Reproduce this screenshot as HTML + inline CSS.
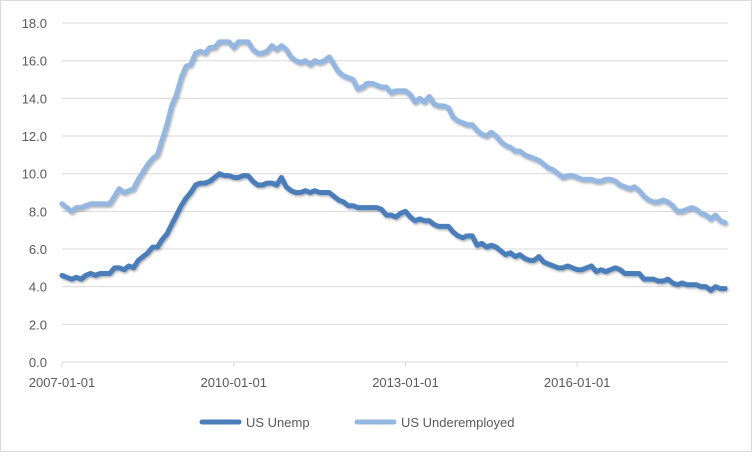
<!DOCTYPE html>
<html><head><meta charset="utf-8"><style>
body{margin:0;background:#fff}
svg text{font-family:"Liberation Sans",sans-serif;fill:#595959;font-size:13px}
</style></head><body>
<svg width="752" height="452" id="c">
<defs><filter id="sh" x="-5%" y="-5%" width="110%" height="120%"><feDropShadow dx="1" dy="1.5" stdDeviation="1" flood-color="#000" flood-opacity="0.3"/></filter></defs>
<rect x="0.5" y="0.5" width="751" height="451" fill="#fff" stroke="#d9d9d9"/>
<g id="grid"></g><g id="xax"></g><g id="lines"></g>
<g>
<line x1="202" y1="422" x2="239" y2="422" stroke="#4a7ebb" stroke-width="5" stroke-linecap="round"/>
<text x="246" y="427">US Unemp</text>
<line x1="357" y1="422" x2="394" y2="422" stroke="#93b7e0" stroke-width="5" stroke-linecap="round"/>
<text x="401" y="427">US Underemployed</text>
</g>
</svg>
<script>
const yTicks=[0,2,4,6,8,10,12,14,16,18];
const xTickLabels=["2007-01-01","2010-01-01","2013-01-01","2016-01-01"];
const xTickMonths=[0,36,72,108];
const unemp=[4.6,4.5,4.4,4.5,4.4,4.6,4.7,4.6,4.7,4.7,4.7,5.0,
5.0,4.9,5.1,5.0,5.4,5.6,5.8,6.1,6.1,6.5,6.8,7.3,
7.8,8.3,8.7,9.0,9.4,9.5,9.5,9.6,9.8,10.0,9.9,9.9,
9.8,9.8,9.9,9.9,9.6,9.4,9.4,9.5,9.5,9.4,9.8,9.3,
9.1,9.0,9.0,9.1,9.0,9.1,9.0,9.0,9.0,8.8,8.6,8.5,
8.3,8.3,8.2,8.2,8.2,8.2,8.2,8.1,7.8,7.8,7.7,7.9,
8.0,7.7,7.5,7.6,7.5,7.5,7.3,7.2,7.2,7.2,6.9,6.7,
6.6,6.7,6.7,6.2,6.3,6.1,6.2,6.1,5.9,5.7,5.8,5.6,
5.7,5.5,5.4,5.4,5.6,5.3,5.2,5.1,5.0,5.0,5.1,5.0,
4.9,4.9,5.0,5.1,4.8,4.9,4.8,4.9,5.0,4.9,4.7,4.7,
4.7,4.7,4.4,4.4,4.4,4.3,4.3,4.4,4.2,4.1,4.2,4.1,
4.1,4.1,4.0,4.0,3.8,4.0,3.9,3.9];
const underemp=[8.4,8.2,8.0,8.2,8.2,8.3,8.4,8.4,8.4,8.4,8.4,8.8,
9.2,9.0,9.1,9.2,9.7,10.1,10.5,10.8,11.0,11.8,12.6,13.6,
14.2,15.1,15.7,15.8,16.4,16.5,16.4,16.7,16.7,17.0,17.0,17.0,
16.7,17.0,17.0,17.0,16.6,16.4,16.4,16.5,16.8,16.6,16.8,16.6,
16.2,16.0,15.9,16.0,15.8,16.0,15.9,16.0,16.2,15.8,15.4,15.2,
15.1,15.0,14.5,14.6,14.8,14.8,14.7,14.6,14.6,14.3,14.4,14.4,
14.4,14.2,13.8,14.0,13.8,14.1,13.7,13.6,13.6,13.5,13.0,12.8,
12.7,12.6,12.6,12.3,12.1,12.0,12.2,12.0,11.7,11.5,11.4,11.2,
11.2,11.0,10.9,10.8,10.7,10.5,10.3,10.2,10.0,9.8,9.9,9.9,
9.8,9.7,9.7,9.7,9.6,9.6,9.7,9.7,9.6,9.4,9.3,9.2,
9.3,9.1,8.8,8.6,8.5,8.5,8.6,8.5,8.3,8.0,8.0,8.1,
8.2,8.1,7.9,7.8,7.6,7.8,7.5,7.4];
const NS="http://www.w3.org/2000/svg";
const X0=62,PX=4.77,Y0=362,PY=18.83;
function xs(m){return X0+m*PX}
function ys(v){return Y0-v*PY}
function mk(t,a,p){const e=document.createElementNS(NS,t);for(const k in a)e.setAttribute(k,a[k]);p.appendChild(e);return e}
const grid=document.getElementById('grid');
yTicks.forEach(v=>{
 const l=mk('line',{x1:X0,x2:728,y1:ys(v),y2:ys(v),stroke:'#d9d9d9','stroke-width':1},grid);
 
 
 const t=mk('text',{x:47,y:ys(v)+5,'text-anchor':'end'},grid);t.textContent=v.toFixed(1);
 
 
});
const xa=document.getElementById('xax');
xTickMonths.forEach((m,i)=>{
 const tk=mk('line',{x1:xs(m),x2:xs(m),y1:Y0,y2:Y0+5,stroke:'#d9d9d9'},xa);
 
 
 const t=mk('text',{x:xs(m),y:Y0+25,'text-anchor':'middle'},xa);t.textContent=xTickLabels[i];
 
 
});
const lg=document.getElementById('lines');
[[underemp,'#93b7e0','line-us-underemployed'],[unemp,'#4a7ebb','line-us-unemp']].forEach(([d,c,n])=>{
 const p=mk('polyline',{points:d.map((v,i)=>xs(i)+','+ys(v)).join(' '),fill:'none',stroke:c,'stroke-width':5,'stroke-linejoin':'round','stroke-linecap':'round',filter:'url(#sh)'},lg);
 
 
});
</script>
</body></html>
